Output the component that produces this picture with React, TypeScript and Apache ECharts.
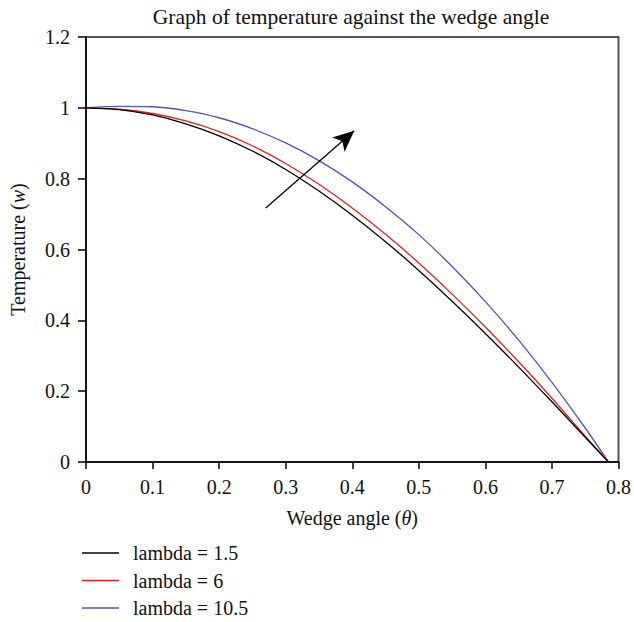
import React, { useEffect, useRef } from "react";
import * as echarts from "echarts";

const thetas = [0, 0.05, 0.1, 0.15, 0.2, 0.25, 0.3, 0.35, 0.4, 0.45, 0.5, 0.55, 0.6, 0.65, 0.7, 0.75, 0.785];
const lambda15 = [1, 0.995, 0.98, 0.955, 0.921, 0.878, 0.826, 0.765, 0.697, 0.622, 0.541, 0.454, 0.363, 0.268, 0.17, 0.07, 0];
const lambda6 = [1, 0.996, 0.984, 0.963, 0.933, 0.893, 0.843, 0.784, 0.717, 0.643, 0.562, 0.474, 0.381, 0.283, 0.18, 0.073, 0];
const lambda105 = [1, 1.004, 1.003, 0.992, 0.972, 0.941, 0.901, 0.851, 0.791, 0.721, 0.642, 0.552, 0.453, 0.344, 0.225, 0.096, 0];
const seriesNames = ["lambda = 1.5", "lambda = 6", "lambda = 10.5"];
const seriesColors = ["#000000", "#e4211c", "#4f55b8"];
const arrowStart = [0.27, 0.717];
const arrowEnd = [0.403, 0.935];

const FONT = "'Liberation Serif', 'Times New Roman', serif";

export default function App() {
  const ref = useRef<HTMLDivElement>(null);
  useEffect(() => {
    if (!ref.current) return;
    const chart = echarts.init(ref.current, undefined, { renderer: "svg" });
    const values = [lambda15, lambda6, lambda105];
    const series: any[] = values.map((vals, i) => ({
      name: seriesNames[i],
      type: "line",
      smooth: 0.3,
      symbol: "none",
      data: thetas.map((t, j) => [t, vals[j]]),
      lineStyle: { color: seriesColors[i], width: 1.3 },
      itemStyle: { color: seriesColors[i] },
      z: 3 - i,
    }));
    series[0].markLine = {
      silent: true,
      symbol: ["none", "arrow"],
      symbolSize: [14, 21],
      label: { show: false },
      lineStyle: { color: "#000", width: 1.3, type: "solid" },
      data: [[{ coord: arrowStart }, { coord: arrowEnd }]],
    };
    chart.setOption({
      animation: false,
      title: {
        text: "Graph of temperature against the wedge angle",
        left: 346,
        textAlign: "center",
        top: 1,
        textStyle: { fontFamily: FONT, fontSize: 21.5, fontWeight: "normal", color: "#111" },
      },
      grid: {
        left: 85,
        right: 12,
        top: 37,
        bottom: 160,
        show: true,
        borderColor: "#555",
        borderWidth: 2,
        backgroundColor: "transparent",
      },
      legend: {
        orient: "vertical",
        left: 82,
        top: 543,
        padding: 0,
        icon: "rect",
        itemWidth: 37,
        itemHeight: 1.4,
        itemGap: 7.5,
        data: seriesNames,
        textStyle: { fontFamily: FONT, fontSize: 20, color: "#111", padding: [0, 0, 0, 9], lineHeight: 20 },
      },
      xAxis: {
        type: "value",
        min: 0,
        max: 0.8,
        interval: 0.1,
        name: "Wedge angle ({i|θ})",
        nameLocation: "middle",
        nameGap: 46,
        nameTextStyle: {
          fontFamily: FONT,
          fontSize: 20,
          color: "#111",
          rich: { i: { fontFamily: FONT, fontSize: 20, fontStyle: "italic", color: "#111" } },
        },
        axisLine: { lineStyle: { color: "#000", width: 1.5 } },
        axisTick: { show: true, inside: false, length: 7, lineStyle: { color: "#000", width: 1.5 } },
        axisLabel: { fontFamily: FONT, fontSize: 20, color: "#111", margin: 15 },
        splitLine: { show: false },
      },
      yAxis: {
        type: "value",
        min: 0,
        max: 1.2,
        interval: 0.2,
        name: "Temperature ({i|w})",
        nameLocation: "middle",
        nameGap: 58,
        nameTextStyle: {
          fontFamily: FONT,
          fontSize: 20,
          color: "#111",
          rich: { i: { fontFamily: FONT, fontSize: 20, fontStyle: "italic", color: "#111" } },
        },
        axisLine: { show: true, lineStyle: { color: "#000", width: 1.5 } },
        axisTick: { show: true, inside: false, length: 8, lineStyle: { color: "#000", width: 1.5 } },
        axisLabel: {
          fontFamily: FONT,
          fontSize: 20,
          color: "#111",
          margin: 16,
          formatter: (v: number) => String(Math.round(v * 10) / 10),
        },
        splitLine: { show: false },
      },
      series,
    });
    return () => chart.dispose();
  }, []);
  return <div ref={ref} style={{ width: 634, height: 622, position: "absolute", left: 0, top: 0, background: "#fff" }} />;
}
